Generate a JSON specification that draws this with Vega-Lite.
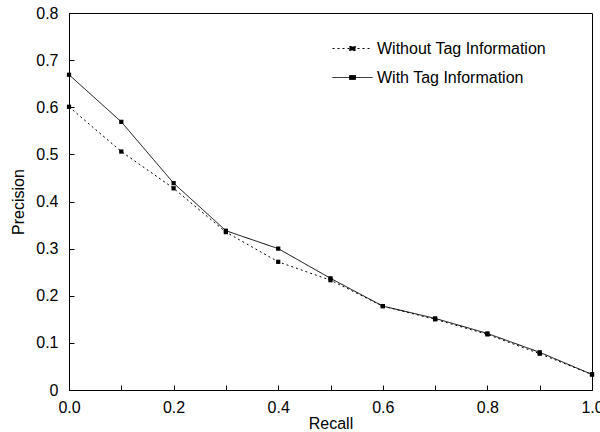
{
  "$schema": "https://vega.github.io/schema/vega-lite/v6.json",
  "autosize": "none",
  "width": 523,
  "height": 377,
  "padding": {"left": 69, "top": 13, "right": 8, "bottom": 42},
  "background": "white",
  "config": {
    "font": "Liberation Sans",
    "view": {"stroke": "black", "strokeWidth": 1},
    "axis": {
      "grid": false,
      "domainColor": "black",
      "tickColor": "black",
      "labelColor": "black",
      "titleColor": "black",
      "labelFont": "Liberation Sans",
      "titleFont": "Liberation Sans",
      "labelFontSize": 16,
      "titleFontSize": 16,
      "titleFontWeight": "normal",
      "tickSize": -5
    }
  },
  "data": {
    "values": [
      {"recall": 0.0, "precision": 0.601, "series": "Without Tag Information"},
      {"recall": 0.1, "precision": 0.506, "series": "Without Tag Information"},
      {"recall": 0.2, "precision": 0.428, "series": "Without Tag Information"},
      {"recall": 0.3, "precision": 0.335, "series": "Without Tag Information"},
      {"recall": 0.4, "precision": 0.272, "series": "Without Tag Information"},
      {"recall": 0.5, "precision": 0.233, "series": "Without Tag Information"},
      {"recall": 0.6, "precision": 0.178, "series": "Without Tag Information"},
      {"recall": 0.7, "precision": 0.150, "series": "Without Tag Information"},
      {"recall": 0.8, "precision": 0.118, "series": "Without Tag Information"},
      {"recall": 0.9, "precision": 0.077, "series": "Without Tag Information"},
      {"recall": 1.0, "precision": 0.033, "series": "Without Tag Information"},
      {"recall": 0.0, "precision": 0.669, "series": "With Tag Information"},
      {"recall": 0.1, "precision": 0.569, "series": "With Tag Information"},
      {"recall": 0.2, "precision": 0.439, "series": "With Tag Information"},
      {"recall": 0.3, "precision": 0.338, "series": "With Tag Information"},
      {"recall": 0.4, "precision": 0.300, "series": "With Tag Information"},
      {"recall": 0.5, "precision": 0.237, "series": "With Tag Information"},
      {"recall": 0.6, "precision": 0.178, "series": "With Tag Information"},
      {"recall": 0.7, "precision": 0.152, "series": "With Tag Information"},
      {"recall": 0.8, "precision": 0.120, "series": "With Tag Information"},
      {"recall": 0.9, "precision": 0.080, "series": "With Tag Information"},
      {"recall": 1.0, "precision": 0.033, "series": "With Tag Information"}
    ]
  },
  "encoding": {
    "x": {
      "field": "recall", "type": "quantitative", "title": "Recall",
      "scale": {"domain": [0, 1], "nice": false},
      "axis": {
        "values": [0, 0.1, 0.2, 0.3, 0.4, 0.5, 0.6, 0.7, 0.8, 0.9, 1.0],
        "labelExpr": "round(datum.value*10)%2==0 ? format(datum.value,'.1f') : ''",
        "labelPadding": 14,
        "titlePadding": 0,
        "labelFlush": false,
        "labelOverlap": false
      }
    },
    "y": {
      "field": "precision", "type": "quantitative", "title": "Precision",
      "scale": {"domain": [0, 0.8], "nice": false},
      "axis": {
        "values": [0, 0.1, 0.2, 0.3, 0.4, 0.5, 0.6, 0.7, 0.8],
        "labelExpr": "datum.value == 0 ? '0' : format(datum.value,'.1f')",
        "labelPadding": 16,
        "titlePadding": 9,
        "labelOverlap": false,
        "labelFlush": false
      }
    }
  },
  "layer": [
    {
      "mark": {"type": "line", "color": "black", "strokeWidth": 1},
      "encoding": {
        "strokeDash": {
          "field": "series", "type": "nominal",
          "scale": {
            "domain": ["Without Tag Information", "With Tag Information"],
            "range": [[2, 3], [1, 0]]
          },
          "legend": {
            "title": null,
            "orient": "none",
            "legendX": 263,
            "legendY": 15,
            "labelFontSize": 16,
            "labelFont": "Liberation Sans",
            "labelColor": "black",
            "labelLimit": 400,
            "symbolType": "M-1,0H1M-0.15,-0.1H0.15V0.1H-0.15Z",
            "symbolSize": 1600,
            "symbolStrokeColor": "black",
            "symbolFillColor": "black",
            "symbolStrokeWidth": 1,
            "rowPadding": -7,
            "labelOffset": 4
          }
        }
      }
    },
    {
      "mark": {"type": "point", "shape": "square", "filled": true, "color": "black", "size": 18, "opacity": 1},
      "encoding": {"detail": {"field": "series", "type": "nominal"}}
    }
  ]
}
